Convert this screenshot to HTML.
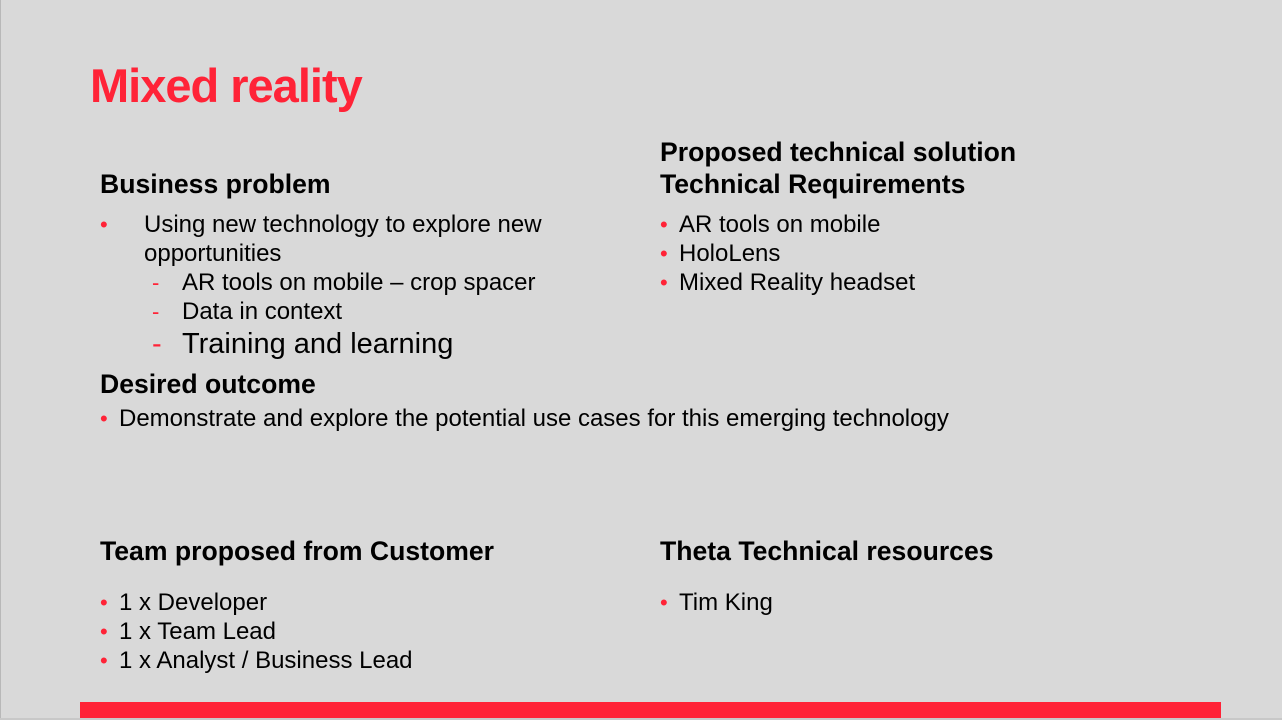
<!DOCTYPE html>
<html><head><meta charset="utf-8"><style>
body{margin:0;width:1282px;height:720px;background:#d9d9d9;position:relative;overflow:hidden;font-family:"Liberation Sans",Arial,sans-serif;color:#000}
.a{position:absolute;white-space:nowrap}
h1{position:absolute;margin:0;left:90px;top:58px;font-size:47px;font-weight:bold;color:#ff2337;letter-spacing:-1px}
.h{font-weight:bold;font-size:26.6px}
.t{font-size:24px}
.b{color:#ff2337;font-size:22px}
.i{position:absolute;left:19px}
</style></head><body>
<div style="position:absolute;left:0;top:0;width:1px;height:720px;background:#b8b8b8"></div>
<div style="position:absolute;left:0;top:718px;width:1282px;height:2px;background:#c8c8c8"></div>
<h1>Mixed reality</h1>
<div class="a h" style="left:100px;top:169px">Business problem</div>
<div class="a t" style="left:100px;top:211px"><span class="b">•</span></div>
<div class="a t" style="left:144px;top:211px">Using new technology to explore new</div>
<div class="a t" style="left:144px;top:240px">opportunities</div>
<div class="a t" style="left:152px;top:269px"><span class="b">-</span></div>
<div class="a t" style="left:182px;top:269px">AR tools on mobile – crop spacer</div>
<div class="a t" style="left:152px;top:298px"><span class="b">-</span></div>
<div class="a t" style="left:182px;top:298px">Data in context</div>
<div class="a" style="left:152px;top:328px;font-size:29px"><span class="b" style="font-size:29px">-</span></div>
<div class="a" style="left:182px;top:328px;font-size:29px">Training and learning</div>
<div class="a h" style="left:100px;top:369px">Desired outcome</div>
<div class="a t" style="left:100px;top:405px"><span class="b">•</span><span class="i">Demonstrate and explore the potential use cases for this emerging technology</span></div>
<div class="a h" style="left:660px;top:137px">Proposed technical solution</div>
<div class="a h" style="left:660px;top:169px">Technical Requirements</div>
<div class="a t" style="left:660px;top:211px"><span class="b">•</span><span class="i">AR tools on mobile</span></div>
<div class="a t" style="left:660px;top:240px"><span class="b">•</span><span class="i">HoloLens</span></div>
<div class="a t" style="left:660px;top:269px"><span class="b">•</span><span class="i">Mixed Reality headset</span></div>
<div class="a h" style="left:100px;top:536px">Team proposed from Customer</div>
<div class="a t" style="left:100px;top:589px"><span class="b">•</span><span class="i">1 x Developer</span></div>
<div class="a t" style="left:100px;top:618px"><span class="b">•</span><span class="i">1 x Team Lead</span></div>
<div class="a t" style="left:100px;top:647px"><span class="b">•</span><span class="i">1 x Analyst / Business Lead</span></div>
<div class="a h" style="left:660px;top:536px">Theta Technical resources</div>
<div class="a t" style="left:660px;top:589px"><span class="b">•</span><span class="i">Tim King</span></div>
<div style="position:absolute;left:80px;top:702px;width:1141px;height:16px;background:#ff2337"></div>
</body></html>
